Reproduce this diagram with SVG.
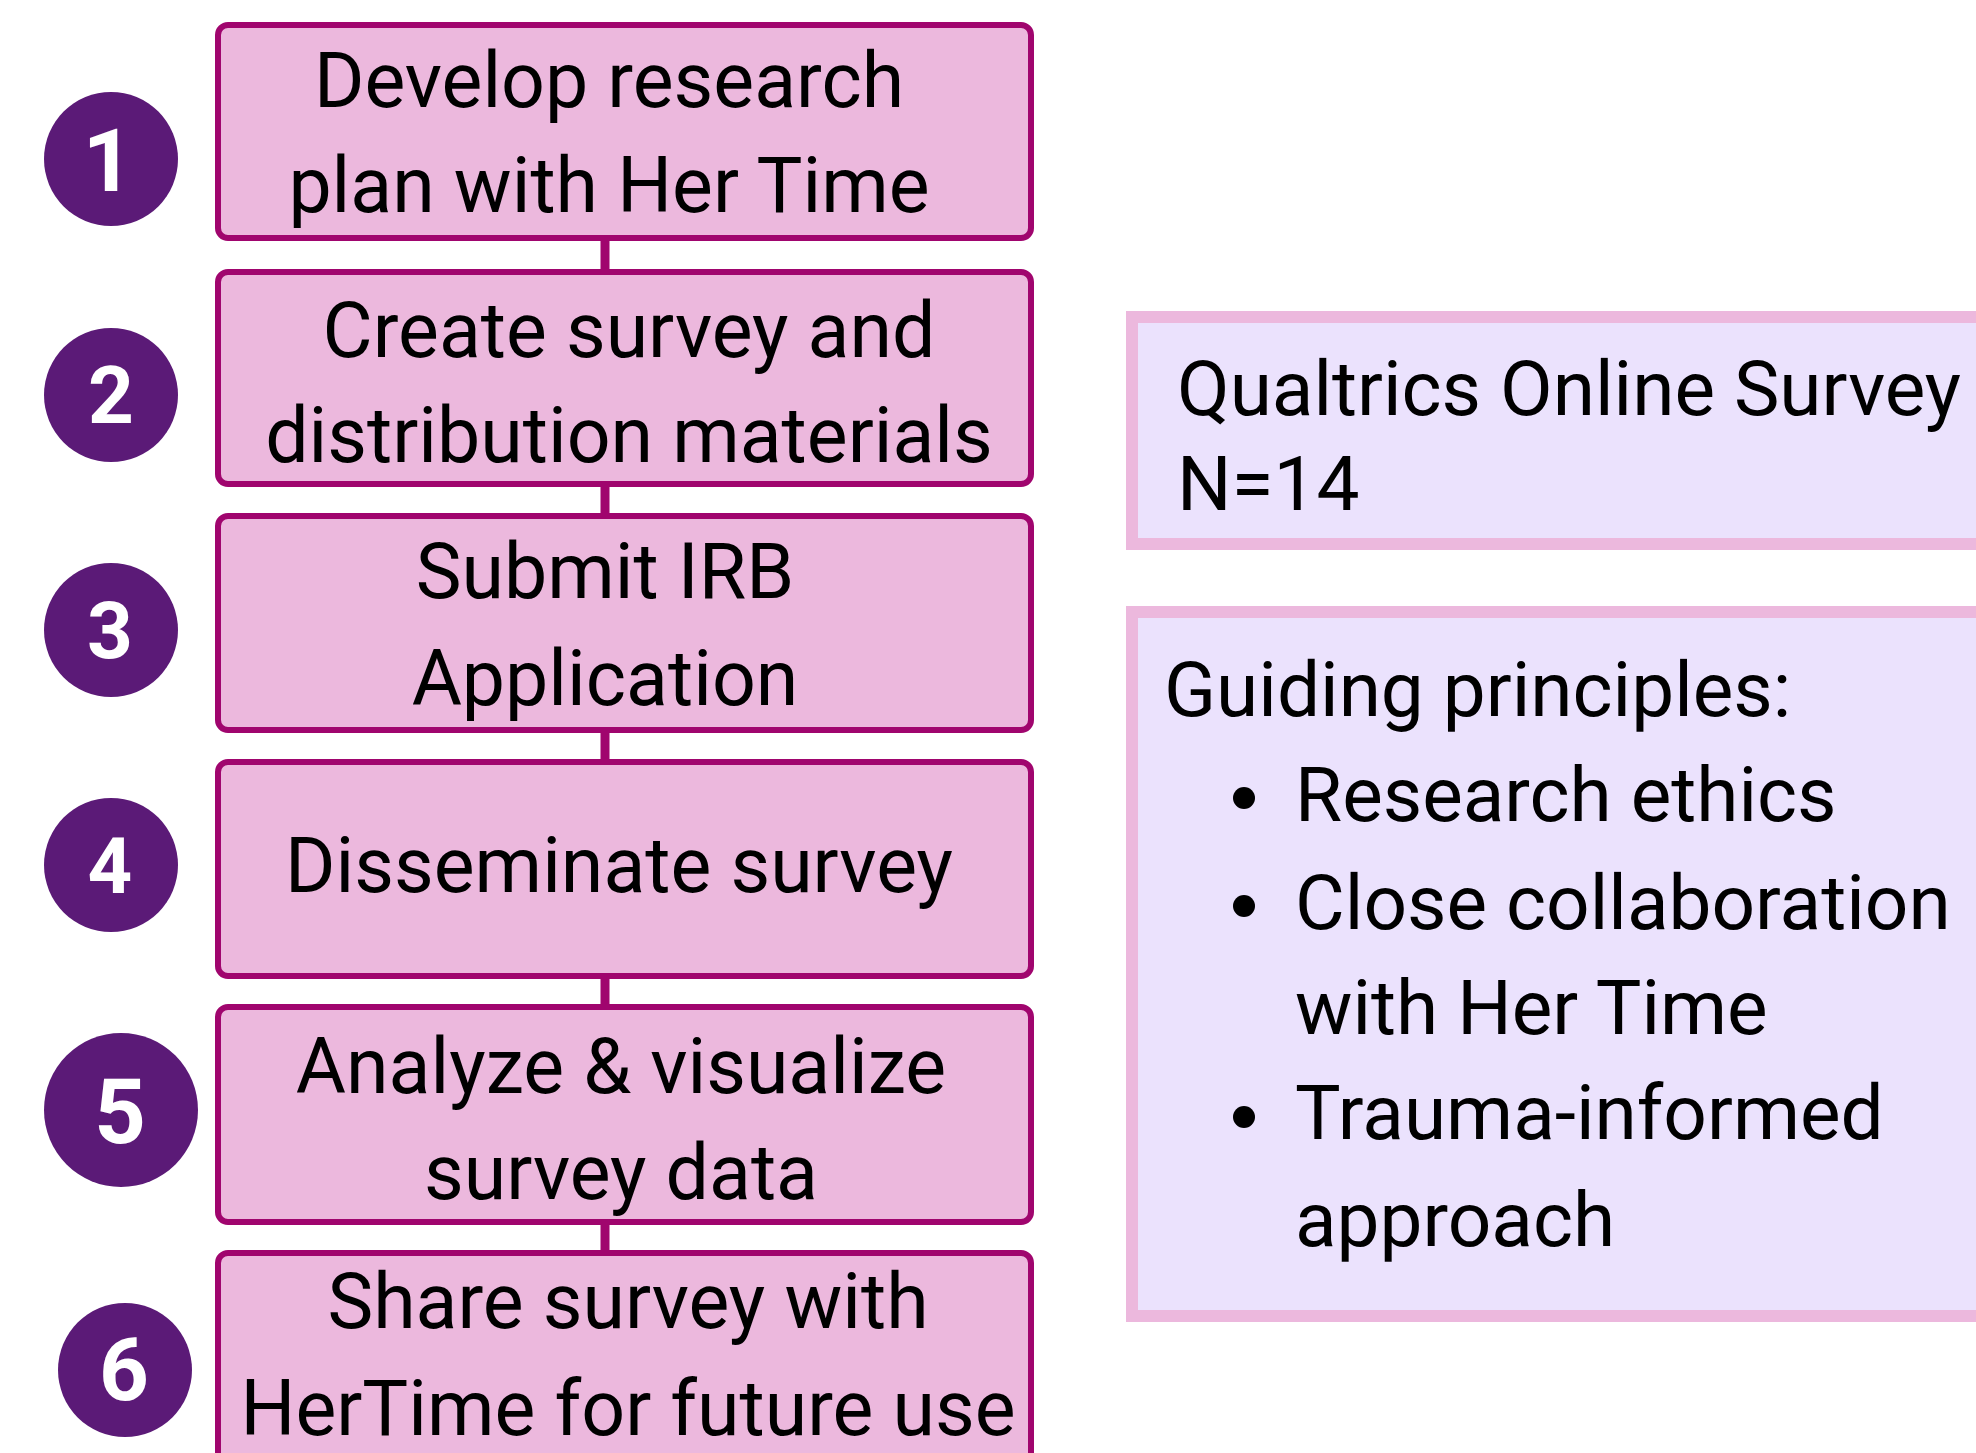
<svg xmlns="http://www.w3.org/2000/svg" width="1976" height="1453" viewBox="0 0 1976 1453">
<style>
.box{fill:#ecb8dd;stroke:#a0056e;stroke-width:6}
.panel{fill:#ebe2fd;stroke:#ecb8dd;stroke-width:12}
.num{fill:#5b1a77}
.numt{fill:#fff;font-family:Roboto,"Liberation Sans",sans-serif;font-weight:700;text-anchor:middle}
.t{fill:#000;font-family:Roboto,"Liberation Sans",sans-serif;font-size:77px}
.r{font-size:76.5px}
.c{text-anchor:middle}
.conn{stroke:#a0056e;stroke-width:9}
</style>
<rect width="1976" height="1453" fill="#fff"/>
<g id="connectors">
<line class="conn" x1="605" y1="238" x2="605" y2="272"/>
<line class="conn" x1="605" y1="484" x2="605" y2="516"/>
<line class="conn" x1="605" y1="730" x2="605" y2="762"/>
<line class="conn" x1="605" y1="976" x2="605" y2="1007"/>
<line class="conn" x1="605" y1="1222" x2="605" y2="1253"/>
</g>
<g id="step1">
<circle class="num" cx="111" cy="159" r="67"/>
<text class="numt" x="108" y="191" font-size="88">1</text>
<rect class="box" x="218" y="25" width="813" height="213" rx="10"/>
<text class="t c" x="609" y="107">Develop research</text>
<text class="t c" x="609" y="212">plan with Her Time</text>
</g>
<g id="step2">
<circle class="num" cx="111" cy="395" r="67"/>
<text class="numt" x="111" y="423" font-size="80">2</text>
<rect class="box" x="218" y="272" width="813" height="212" rx="10"/>
<text class="t c" x="629" y="357">Create survey and</text>
<text class="t c" x="629" y="462">distribution materials</text>
</g>
<g id="step3">
<circle class="num" cx="111" cy="630" r="67"/>
<text class="numt" x="110" y="658" font-size="80">3</text>
<rect class="box" x="218" y="516" width="813" height="214" rx="10"/>
<text class="t c" x="605" y="598">Submit IRB</text>
<text class="t c" x="605" y="705">Application</text>
</g>
<g id="step4">
<circle class="num" cx="111" cy="865" r="67"/>
<text class="numt" x="110" y="893" font-size="78">4</text>
<rect class="box" x="218" y="762" width="813" height="214" rx="10"/>
<text class="t c" x="619" y="892">Disseminate survey</text>
</g>
<g id="step5">
<circle class="num" cx="121" cy="1110" r="77"/>
<text class="numt" x="120" y="1143" font-size="90">5</text>
<rect class="box" x="218" y="1007" width="813" height="215" rx="10"/>
<text class="t c" x="621" y="1093">Analyze &amp; visualize</text>
<text class="t c" x="621" y="1199">survey data</text>
</g>
<g id="step6">
<circle class="num" cx="125" cy="1370" r="67"/>
<text class="numt" x="124" y="1400" font-size="87">6</text>
<rect class="box" x="218" y="1253" width="813" height="220" rx="10"/>
<text class="t c" x="628" y="1328">Share survey with</text>
<text class="t c" x="628" y="1435">HerTime for future use</text>
</g>
<g id="qualtrics">
<rect class="panel" x="1132" y="317" width="900" height="227"/>
<text class="t r" x="1177" y="415">Qualtrics Online Survey</text>
<text class="t r" x="1177" y="510">N=14</text>
</g>
<g id="principles">
<rect class="panel" x="1132" y="612" width="900" height="704"/>
<text class="t r" x="1164" y="716">Guiding principles:</text>
<circle cx="1244" cy="798" r="11"/>
<text class="t r" x="1295" y="821">Research ethics</text>
<circle cx="1244" cy="906" r="11"/>
<text class="t r" x="1295" y="929">Close collaboration</text>
<text class="t r" x="1295" y="1034">with Her Time</text>
<circle cx="1244" cy="1117" r="11"/>
<text class="t r" x="1295" y="1139">Trauma-informed</text>
<text class="t r" x="1295" y="1246">approach</text>
</g>
</svg>
